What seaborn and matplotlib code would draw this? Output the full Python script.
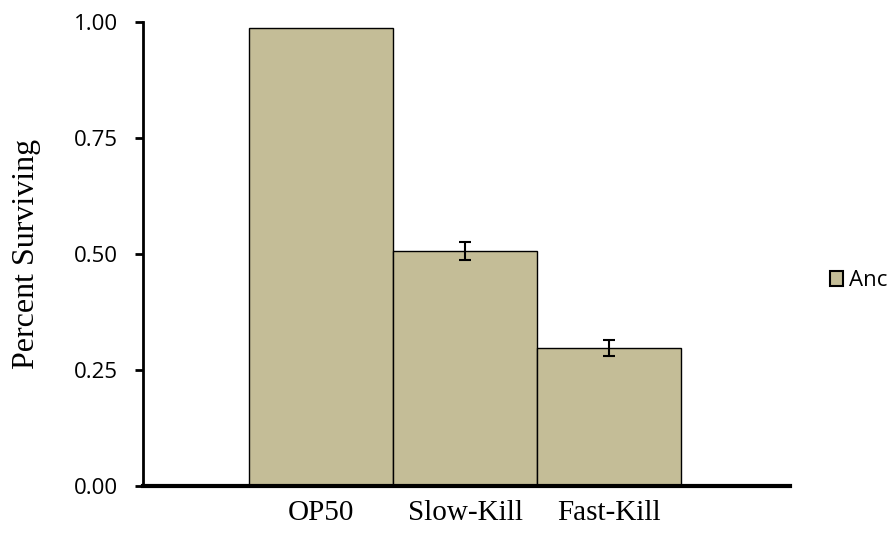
import matplotlib
matplotlib.use("Agg")
import matplotlib.pyplot as plt
import seaborn as sns
import pandas as pd
import numpy as np

conditions = ["OP50", "Slow-Kill", "Fast-Kill"]
surviving = [0.987, 0.506, 0.297]
errors = [np.nan, 0.020, 0.017]
strain = ["Anc", "Anc", "Anc"]
yticks = [0.00, 0.25, 0.50, 0.75, 1.00]

df = pd.DataFrame({"condition": conditions, "surviving": surviving, "strain": strain})

sns.set_theme(style="white")
plt.rcParams["font.family"] = ["Open Sans", "DejaVu Sans"]
plt.rcParams.update({"text.color": "black", "axes.labelcolor": "black",
                     "xtick.color": "black", "ytick.color": "black"})
serif = ["Liberation Serif", "DejaVu Serif"]

fig = plt.figure(figsize=(8.94, 5.33), dpi=100)
ax = fig.add_axes([0.16, 0.0882, 0.7237, 0.8705])

sns.barplot(data=df, x="condition", y="surviving", hue="strain",
            palette=["#C4BD97"], saturation=1, edgecolor="black", linewidth=1.0,
            width=1.0, errorbar=None, ax=ax, legend=True)

ax.errorbar(range(len(conditions)), surviving, yerr=errors, fmt="none",
            ecolor="black", elinewidth=1.5, capsize=4.5, capthick=1.5)

ax.set_xlim(-1.236, 3.257)
ax.set_ylim(0, 1.0)
ax.set_yticks(yticks)
ax.set_yticklabels([f"{v:.2f}" for v in yticks], fontsize=16)
ax.set_xticks(range(len(conditions)))
ax.set_xticklabels(conditions, fontsize=21, family=serif)
ax.set_xlabel("")
ax.set_ylabel("Percent Surviving", fontsize=23, family=serif, labelpad=24)

for side in ["top", "right"]:
    ax.spines[side].set_visible(False)
ax.spines["left"].set_linewidth(2)
ax.spines["bottom"].set_linewidth(3)
ax.spines["left"].set_color("black")
ax.spines["bottom"].set_color("black")
ax.tick_params(axis="y", which="both", left=True, length=6, width=2, color="black",
               labelcolor="black", direction="out", pad=12)
ax.tick_params(axis="x", length=0, pad=10, labelcolor="black")

handles, labels = ax.get_legend_handles_labels()
ax.get_legend().remove()
leg = fig.legend(handles, labels, loc="center left", bbox_to_anchor=(0.928, 0.473),
                 frameon=False, fontsize=16, borderpad=0, borderaxespad=0,
                 handlelength=0.6, handleheight=0.65, handletextpad=0.25)
for h in leg.legend_handles:
    h.set_edgecolor("black")
    h.set_linewidth(1.5)

fig.savefig("out.png", dpi=100)
